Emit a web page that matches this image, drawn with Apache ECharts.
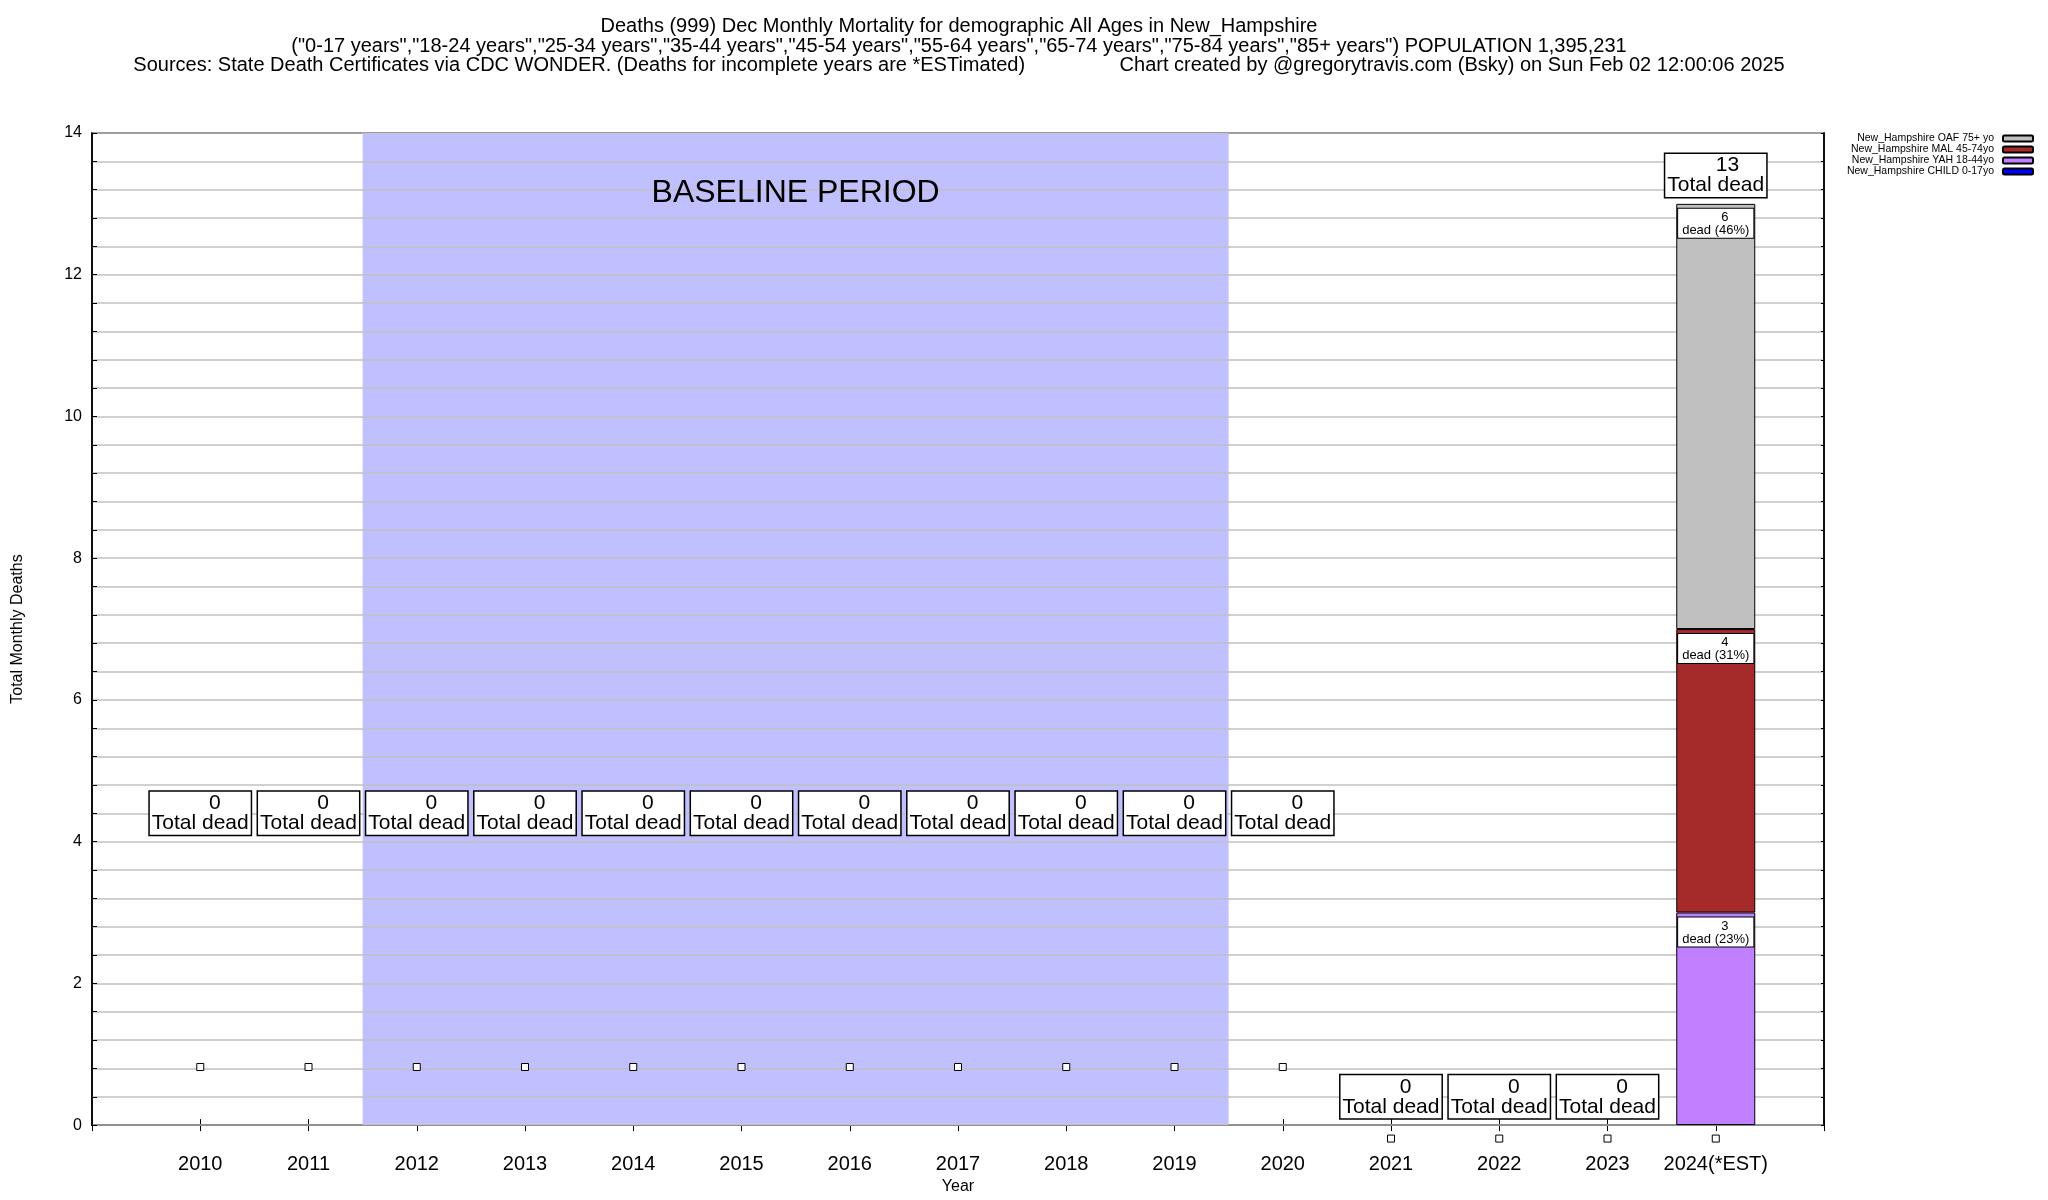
<!DOCTYPE html>
<html>
<head>
<meta charset="utf-8">
<script src="https://cdn.jsdelivr.net/npm/echarts@6/dist/echarts.min.js"></script>
<style>
html,body{margin:0;padding:0;background:#fff;}
#c{width:2048px;height:1200px;}
</style>
</head>
<body>
<div id="c"></div>
<script>
// ---- data ----
const years = [2010,2011,2012,2013,2014,2015,2016,2017,2018,2019,2020,2021,2022,2023,2024];
const axisYears = [2009,2010,2011,2012,2013,2014,2015,2016,2017,2018,2019,2020,2021,2022,2023,2024,2025];
const childVals = [0,0,0,0,0,0,0,0,0,0,0,0,0,0,0];
const yahVals   = [0,0,0,0,0,0,0,0,0,0,0,0,0,0,3];
const malVals   = [0,0,0,0,0,0,0,0,0,0,0,0,0,0,4];
const oafVals   = [0,0,0,0,0,0,0,0,0,0,0,0,0,0,6];
const totalLabelY = [4.4,4.4,4.4,4.4,4.4,4.4,4.4,4.4,4.4,4.4,4.4,0.4,0.4,0.4,13.4];
const markerY = [0.82,0.82,0.82,0.82,0.82,0.82,0.82,0.82,0.82,0.82,0.82,-0.19,-0.19,-0.19,-0.19];
const baseline = [2011.5, 2019.5];
const baselineLabel = {text: 'BASELINE PERIOD', x: 2015.5, y: 13.15};
const seriesNames = ['New_Hampshire CHILD 0-17yo','New_Hampshire YAH 18-44yo','New_Hampshire MAL 45-74yo','New_Hampshire OAF 75+ yo'];
const titleLines = [
  'Deaths (999) Dec Monthly Mortality for demographic All Ages in New_Hampshire',
  '("0-17 years","18-24 years","25-34 years","35-44 years","45-54 years","55-64 years","65-74 years","75-84 years","85+ years") POPULATION 1,395,231',
  'Sources: State Death Certificates via CDC WONDER. (Deaths for incomplete years are *ESTimated)                 Chart created by @gregorytravis.com (Bsky) on Sun Feb 02 12:00:06 2025'
];

const FONT = 'Liberation Sans, Arial, Helvetica, sans-serif';
const totals = years.map((y,i)=>childVals[i]+yahVals[i]+malVals[i]+oafVals[i]);
function pad(n, w){ let s=String(n); while(s.length<w) s=' '+s; return s; }

const colors = ['#0000ff','#c080ff','#a52a2a','#c0c0c0'];
const valsList = [childVals, yahVals, malVals, oafVals];

const barSeries = valsList.map((vals, k) => ({
  name: seriesNames[k],
  type: 'bar',
  stack: 'dead',
  xAxisIndex: 0,
  yAxisIndex: 0,
  barWidth: 79,
  z: 3,
  itemStyle: {color: colors[k], borderColor: '#000', borderWidth: 1},
  label: {
    show: true,
    position: 'insideTop',
    distance: 5,
    formatter: p => {
      const i = years.indexOf(+p.name);
      const v = vals[i];
      const pct = Math.round(v / totals[i] * 100);
      return pad(v, 6) + '\ndead (' + pct + '%)';
    },
    backgroundColor: '#fff',
    borderColor: '#000',
    borderWidth: 1,
    padding: [2, 4, 1, 4],
    fontSize: 13,
    lineHeight: 13,
    color: '#000',
    fontFamily: FONT
  },
  data: axisYears.map(y => {
    const i = years.indexOf(y);
    return (i < 0 || vals[i] === 0) ? '-' : vals[i];
  })
}));

const option = {
  animation: false,
  backgroundColor: '#fff',
  title: {
    text: titleLines.join('\n'),
    left: 954,
    top: 12,
    textAlign: 'center',
    textStyle: {fontSize: 20, lineHeight: 19.5, fontWeight: 'normal', color: '#000', fontFamily: FONT}
  },
  legend: {
    data: [seriesNames[3], seriesNames[2], seriesNames[1], seriesNames[0]],
    orient: 'vertical',
    right: 14,
    top: 133,
    align: 'right',
    itemWidth: 30,
    itemHeight: 6,
    itemGap: 0,
    padding: 0,
    textStyle: {fontSize: 10.5, lineHeight: 11, color: '#000', fontFamily: FONT, padding: [0, 4, 0, 0]}
  },
  grid: {left: 92, right: 224, top: 133, bottom: 68, show: true, borderColor: '#000', borderWidth: 1.5, backgroundColor: 'transparent'},
  xAxis: [{
    type: 'category',
    boundaryGap: false,
    data: axisYears.map(String),
    position: 'bottom',
    name: 'Year',
    nameLocation: 'middle',
    nameGap: 49,
    nameTextStyle: {fontSize: 16, color: '#000', fontFamily: FONT},
    axisLine: {show: true, lineStyle: {color: '#000', width: 1.5}},
    axisTick: {show: true, inside: true, length: 6, interval: 0, lineStyle: {color: '#000'}},
    splitLine: {show: false},
    axisLabel: {
      interval: 0, margin: 29, fontSize: 20, color: '#000', fontFamily: FONT,
      formatter: v => (v === '2024' ? '2024(*EST)' : ((+v >= 2010 && +v <= 2024) ? v : ''))
    }
  }, {
    type: 'value', position: 'top',
    min: 2009, max: 2025, interval: 1,
    axisLine: {show: true, lineStyle: {color: '#000', width: 1.5}},
    axisTick: {show: true, inside: true, length: 6, lineStyle: {color: '#000'}},
    splitLine: {show: false},
    axisLabel: {show: false}
  }],
  yAxis: [{
    type: 'value',
    min: 0, max: 14, interval: 0.4,
    z: 2,
    name: 'Total Monthly Deaths',
    nameLocation: 'middle',
    nameGap: 66,
    nameTextStyle: {fontSize: 16, color: '#000', fontFamily: FONT},
    axisLine: {show: true, lineStyle: {color: '#000', width: 1.5}},
    axisTick: {show: true, inside: true, length: 5, lineStyle: {color: '#000'}},
    splitLine: {show: true, lineStyle: {color: '#c0c0c0', width: 1.5}},
    axisLabel: {
      margin: 10, fontSize: 16, color: '#000', fontFamily: FONT,
      formatter: v => { const r = Math.round(v * 10) / 10; return (Math.abs(r % 2) < 1e-6) ? String(r) : ''; }
    }
  }, {
    type: 'value', position: 'right',
    min: 0, max: 14, interval: 0.4,
    z: 2,
    axisLine: {show: true, lineStyle: {color: '#000', width: 1.5}},
    axisTick: {show: true, inside: true, length: 3, lineStyle: {color: '#000'}},
    splitLine: {show: false},
    axisLabel: {show: false}
  }],
  series: [
    {
      type: 'line',
      name: 'baseline',
      xAxisIndex: 1,
      yAxisIndex: 0,
      data: [],
      z: 1,
      silent: true,
      markArea: {
        silent: true,
        z: 1,
        itemStyle: {color: '#c0c0ff', opacity: 1},
        data: [[{xAxis: baseline[0], yAxis: 14}, {xAxis: baseline[1], yAxis: 0}]]
      }
    },
    {
      type: 'scatter',
      name: 'baselineLabel',
      xAxisIndex: 1,
      yAxisIndex: 0,
      symbolSize: 0,
      z: 5,
      silent: true,
      itemStyle: {opacity: 1},
      label: {show: true, position: 'inside', formatter: () => baselineLabel.text, fontSize: 32, color: '#000', fontFamily: FONT},
      data: [[baselineLabel.x, baselineLabel.y]]
    },
    ...barSeries,
    {
      type: 'scatter',
      name: 'markers',
      xAxisIndex: 1,
      yAxisIndex: 0,
      symbol: 'rect',
      symbolSize: 7,
      clip: false,
      z: 4,
      itemStyle: {color: '#fff', borderColor: '#000', borderWidth: 1, opacity: 1},
      data: years.map((y,i) => [y, markerY[i]])
    },
    {
      type: 'scatter',
      name: 'totals',
      xAxisIndex: 1,
      yAxisIndex: 0,
      symbolSize: 0,
      z: 6,
      clip: false,
      itemStyle: {opacity: 1},
      label: {
        show: true,
        position: 'inside',
        formatter: p => pad(totals[p.dataIndex], 6) + '\nTotal dead',
        backgroundColor: '#fff',
        borderColor: '#000',
        borderWidth: 1.5,
        padding: [2, 2, 1, 2],
        fontSize: 21,
        lineHeight: 20,
        color: '#000',
        fontFamily: FONT
      },
      data: years.map((y,i) => [y, totalLabelY[i]])
    }
  ]
};

const chart = echarts.init(document.getElementById('c'), null, {renderer: 'canvas'});
chart.setOption(option);
</script>
</body>
</html>
